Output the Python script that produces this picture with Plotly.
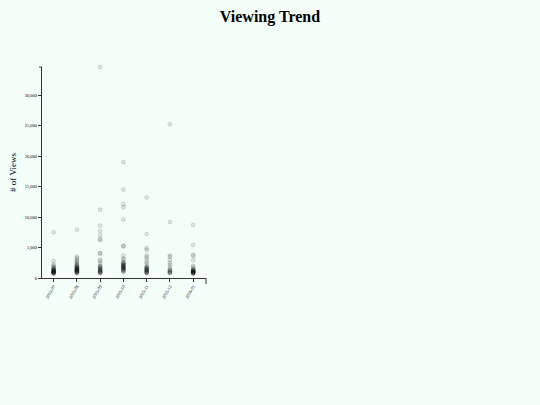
import plotly.graph_objects as go

months = ['2015-07', '2015-08', '2015-09', '2015-10', '2015-11', '2015-12', '2016-01']

# views per video, grouped by upload month
views_2015_07 = [7500, 2800, 2200, 2000, 1800, 1700, 1500, 1400, 1300, 1250, 1200, 1150, 1100,
                 1050, 1000, 950, 900, 850, 800, 750, 700, 1350, 1600, 900, 1000]
views_2015_08 = [7900, 3500, 3300, 3000, 2800, 2600, 2400, 2200, 2100, 2000, 1900, 1800, 1700,
                 1600, 1500, 1450, 1400, 1300, 1250, 1200, 1100, 1050, 1000, 950, 900, 850,
                 800, 1150, 1350, 1550, 1750]
views_2015_09 = [34600, 11200, 8600, 7700, 7000, 6400, 6200, 4100, 4000, 3000, 2800, 2400, 2000,
                 1900, 1800, 1600, 1500, 1400, 1300, 1200, 1100, 1000, 950, 900, 850, 800,
                 1250, 1700]
views_2015_10 = [19000, 14500, 12100, 11600, 9600, 5300, 5200, 3700, 3200, 3000, 2600, 2500,
                 2400, 2300, 2200, 2100, 2000, 1900, 1800, 1700, 1600, 1500, 1400, 1300, 1200,
                 1100, 1000, 1850, 1650, 1450, 2050]
views_2015_11 = [13200, 7200, 4900, 4600, 3700, 3400, 3000, 2600, 2300, 1900, 1800, 1700, 1600,
                 1500, 1400, 1300, 1200, 1100, 1000, 950, 900, 850, 800, 1250, 1550]
views_2015_12 = [25200, 9200, 3700, 3500, 3000, 2500, 2200, 1800, 1500, 1300, 1200, 1000, 900,
                 850, 800, 1100]
views_2016_01 = [8700, 5400, 3800, 3600, 2900, 2000, 1800, 1500, 1400, 1300, 1200, 1150, 1100,
                 1050, 1000, 950, 900, 850, 800, 750, 700, 1250, 1000, 900]

groups = [views_2015_07, views_2015_08, views_2015_09, views_2015_10,
          views_2015_11, views_2015_12, views_2016_01]

xs, ys = [], []
for m, vals in zip(months, groups):
    for v in vals:
        xs.append(m)
        ys.append(v)

font_family = 'Liberation Serif, Times New Roman, serif'

fig = go.Figure()
fig.add_trace(go.Scatter(
    x=xs, y=ys, mode='markers', cliponaxis=False,
    marker=dict(size=4, color='rgba(0,0,0,0.1)',
                line=dict(color='rgba(0,0,0,0.2)', width=0.6)),
    showlegend=False, hoverinfo='x+y'))

# d3-style outer ticks at the domain ends
fig.add_shape(type='line', xref='paper', yref='paper', x0=0, x1=-0.018, y0=1, y1=1,
              line=dict(color='#333', width=1))
fig.add_shape(type='line', xref='paper', yref='paper', x0=1, x1=1, y0=0, y1=-0.028,
              line=dict(color='#333', width=1))

fig.update_layout(
    width=540, height=405,
    paper_bgcolor='#F5FFFA', plot_bgcolor='#F5FFFA',
    margin=dict(l=37, r=334, t=67, b=127),
    font=dict(family=font_family, color='#000'),
    title=dict(text='<b>Viewing Trend</b>', x=0.5, xanchor='center', y=1 - 16 / 405,
               yanchor='middle', font=dict(size=16, family=font_family, color='#000')),
    xaxis=dict(type='category', categoryorder='array', categoryarray=months,
               range=[-0.5, 6.55], showgrid=False, zeroline=False,
               showline=True, linecolor='#333', linewidth=1,
               ticks='outside', ticklen=3, tickcolor='#333',
               tickangle=-60, tickfont=dict(size=4.5, family=font_family)),
    yaxis=dict(range=[0, 34600], dtick=5000, tickformat=',', showgrid=False,
               zeroline=False, showline=True, linecolor='#333', linewidth=1,
               ticks='outside', ticklen=3, tickcolor='#333',
               tickfont=dict(size=4.5, family=font_family),
               title=dict(text='# of Views', font=dict(size=9, family=font_family),
                          standoff=6)),
)

# page without the default body margin, same mint background
page_js = ("document.body.style.margin='0';"
           "document.body.style.background='#F5FFFA';")
fig.write_html('out.html', post_script=page_js, config={'displayModeBar': False})
